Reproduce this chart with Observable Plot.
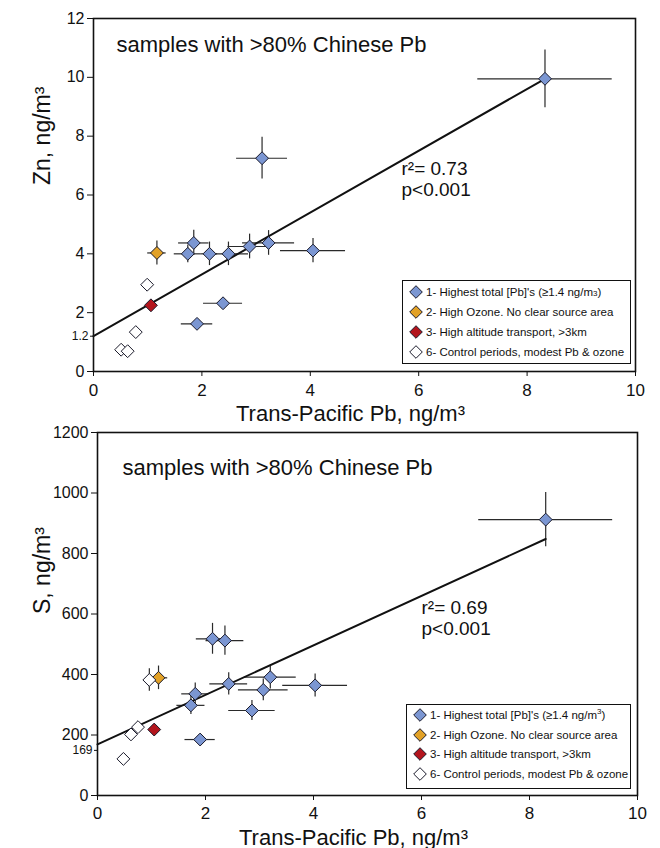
<!DOCTYPE html>
<html><head><meta charset="utf-8">
<script src="https://cdn.jsdelivr.net/npm/d3@7"></script>
<script src="https://cdn.jsdelivr.net/npm/@observablehq/plot@0.6"></script>
<style>
body{margin:0;background:#fff;font-family:"Liberation Sans",Arial,sans-serif;}
#wrap{width:660px;}
.panel{position:relative;width:660px;}
.panel svg{overflow:visible;}
.legend{position:absolute;border:1.5px solid #111;background:#fff;box-sizing:border-box;font-size:11.5px;color:#111;font-family:"Liberation Sans",Arial,sans-serif;}
.legend .row{position:absolute;left:6px;display:flex;align-items:center;white-space:nowrap;height:16px;}
.legend .row svg{margin-right:3px;}
.legend small{font-size:8px;}
.legend sup{font-size:8px;vertical-align:5px;line-height:0;}
</style></head><body><div id="wrap"></div>
<script>
// ---- categories ----
const groups = ["1", "2", "3", "6"];
const groupColors = ["#7b96d2", "#e2a126", "#b3151d", "#ffffff"];
const legendZn = ["1- Highest total [Pb]'s (≥1.4 ng/m<small>3</small>)", "2- High Ozone. No clear source area", "3- High altitude transport, >3km", "6- Control periods, modest Pb &amp; ozone"];
const legendS = ["1- Highest total [Pb]'s (≥1.4 ng/m<sup>3</sup>)", "2- High Ozone. No clear source area", "3- High altitude transport, >3km", "6- Control periods, modest Pb &amp; ozone"];

// ---- top panel: Zn vs trans-Pacific Pb ----
const znPb    = [3.11, 1.85, 1.74, 2.14, 2.49, 2.88, 3.23, 4.05, 2.39, 1.91, 8.33, 1.17, 1.06, 0.99, 0.78, 0.51, 0.63];
const znPbErr = [0.47, 0.28, 0.25, 0.15, 0.37, 0.40, 0.48, 0.60, 0.36, 0.29, 1.24, 0.17, 0, 0, 0, 0, 0];
const znVal   = [7.25, 4.37, 4.00, 4.00, 4.00, 4.25, 4.37, 4.11, 2.32, 1.62, 9.95, 4.03, 2.25, 2.95, 1.34, 0.74, 0.69];
const znErr   = [0.71, 0.43, 0.30, 0.40, 0.40, 0.42, 0.42, 0.41, 0.15, 0.15, 0.98, 0.41, 0, 0, 0, 0, 0];
const znGroup = ["1","1","1","1","1","1","1","1","1","1","1","2","3","6","6","6","6"];
const znFitPb = [0, 8.33];
const znFit   = [1.2, 9.95];
const znTicks = [0, 2, 4, 6, 8, 10, 12];
const znIntercept = [1.2];
const znStats = ["r²= 0.73", "p<0.001"];

// ---- bottom panel: S vs trans-Pacific Pb ----
const sPb    = [2.13, 2.36, 3.20, 2.43, 4.03, 3.07, 1.81, 1.73, 2.86, 1.90, 8.30, 1.13, 1.05, 0.96, 0.75, 0.62, 0.48];
const sPbErr = [0.30, 0.35, 0.48, 0.35, 0.60, 0.46, 0.25, 0.26, 0.43, 0.28, 1.24, 0.17, 0, 0.10, 0, 0, 0];
const sVal   = [518, 512, 391, 369, 364, 349, 336, 298, 281, 185, 912, 389, 218, 382, 226, 202, 121];
const sErr   = [51, 48, 39, 37, 38, 36, 36, 30, 33, 0, 90, 39, 0, 37, 0, 0, 0];
const sGroup = ["1","1","1","1","1","1","1","1","1","1","1","2","3","6","6","6","6"];
const sFitPb = [0, 8.3];
const sFit   = [169, 848];
const sTicks = [0, 200, 400, 600, 800, 1000, 1200];
const sIntercept = [169];
const sStats = ["r²= 0.69", "p<0.001"];

const xTicks = [0, 2, 4, 6, 8, 10];
const note = "samples with >80% Chinese Pb";
const xTitle = "Trans-Pacific Pb, ng/m³";

function diamondSvg(color) {
  return `<svg width="14" height="14" viewBox="-7 -7 14 14"><path d="M0,-6.3L6.3,0L0,6.3L-6.3,0Z" fill="${color}" stroke="#1a1a2a" stroke-width="1"/></svg>`;
}

function panel(cfg) {
  const data = cfg.x.map((x, i) => ({x, y: cfg.y[i], ex: cfg.ex[i], ey: cfg.ey[i], g: cfg.g[i]}));
  const fit = cfg.fitX.map((x, i) => ({x, y: cfg.fitY[i]}));
  const div = document.createElement("div");
  div.className = "panel";
  const statMarks = cfg.stats.map((s, i) =>
    Plot.text([s], {frameAnchor: "top-left", dx: cfg.statDx, dy: cfg.statDy + i * 21, text: d => d, fontSize: 19, lineAnchor: "top", fill: "#111"}));
  const chart = Plot.plot({
    width: 660, height: cfg.height,
    marginTop: cfg.mt, marginBottom: cfg.mb, marginLeft: cfg.ml, marginRight: cfg.mr,
    style: {fontFamily: "'Liberation Sans', Arial, sans-serif", color: "#111", background: "transparent"},
    x: {domain: [0, 10]},
    y: {domain: cfg.yDomain},
    color: {domain: groups, range: groupColors},
    marks: [
      Plot.ruleY(data.filter(d => d.ex > 0), {y: "y", x1: d => d.x - d.ex, x2: d => d.x + d.ex, stroke: "#2a2a2a", strokeWidth: 1.2}),
      Plot.ruleX(data.filter(d => d.ey > 0), {x: "x", y1: d => d.y - d.ey, y2: d => d.y + d.ey, stroke: "#2a2a2a", strokeWidth: 1.2}),
      Plot.line(fit, {x: "x", y: "y", stroke: "#111", strokeWidth: 2}),
      Plot.dot(data, {x: "x", y: "y", fill: "g", symbol: "diamond2", r: 5.8, stroke: "#1a1a2a", strokeWidth: 1}),
      Plot.frame({stroke: "#111", strokeWidth: 1.6}),
      Plot.axisY({ticks: cfg.yTicks, tickSize: 6, tickPadding: 3, fontSize: 16, label: null, tickFormat: d => String(d)}),
      Plot.axisY({ticks: cfg.yExtra, tickSize: 3, tickPadding: 2, fontSize: 12, dy: cfg.extraDy, label: null, tickFormat: d => String(d)}),
      Plot.axisX({ticks: xTicks, tickSize: 5, tickPadding: cfg.xPad, fontSize: 17, label: null, tickFormat: d => String(d)}),
      Plot.text([note], {frameAnchor: "top-left", dx: cfg.noteDx, dy: cfg.noteDy, text: d => d, fontSize: 22, lineAnchor: "middle", fill: "#111"}),
      ...statMarks,
      Plot.text([cfg.yTitle], {frameAnchor: "left", dx: cfg.yTitleDx, dy: cfg.yTitleDy, rotate: -90, text: d => d, fontSize: 23, lineAnchor: "middle", fill: "#111"}),
      Plot.text([xTitle], {frameAnchor: "bottom", dx: -14, dy: cfg.xTitleDy, text: d => d, fontSize: 22, lineAnchor: "middle", fill: "#111", fontFamily: "'Liberation Sans Narrow', 'Liberation Sans', sans-serif"})
    ]
  });
  div.appendChild(chart);
  const lg = document.createElement("div");
  lg.className = "legend";
  Object.assign(lg.style, {left: cfg.lg.left + "px", top: cfg.lg.top + "px", width: cfg.lg.w + "px", height: cfg.lg.h + "px"});
  cfg.legend.forEach((lab, i) => {
    const r = document.createElement("div");
    r.className = "row";
    r.style.top = (cfg.lg.row0 + i * cfg.lg.step - 8) + "px";
    r.innerHTML = diamondSvg(groupColors[i]) + "<span>" + lab + "</span>";
    lg.appendChild(r);
  });
  div.appendChild(lg);
  return div;
}

const wrap = document.getElementById("wrap");
wrap.appendChild(panel({
  x: znPb, y: znVal, ex: znPbErr, ey: znErr, g: znGroup, fitX: znFitPb, fitY: znFit,
  height: 420, mt: 18, mb: 49, ml: 93, mr: 25, yDomain: [0, 12], yTicks: znTicks, yExtra: znIntercept, extraDy: 0,
  xPad: 7, noteDx: 23, noteDy: 26, statDx: 308, statDy: 143, stats: znStats,
  yTitle: "Zn, ng/m³", yTitleDx: -51, yTitleDy: -10, xTitleDy: 42,
  legend: legendZn, lg: {left: 402, top: 280, w: 229, h: 84, row0: 11, step: 20}
}));
wrap.appendChild(panel({
  x: sPb, y: sVal, ex: sPbErr, ey: sErr, g: sGroup, fitX: sFitPb, fitY: sFit,
  height: 428, mt: 12, mb: 53, ml: 97, mr: 23, yDomain: [0, 1200], yTicks: sTicks, yExtra: sIntercept, extraDy: 6,
  xPad: 6, noteDx: 25, noteDy: 35, statDx: 324, statDy: 168, stats: sStats,
  yTitle: "S, ng/m³", yTitleDx: -55, yTitleDy: 0, xTitleDy: 42,
  legend: legendS, lg: {left: 406, top: 284, w: 225, h: 85, row0: 10, step: 19.5}
}));
</script></body></html>
